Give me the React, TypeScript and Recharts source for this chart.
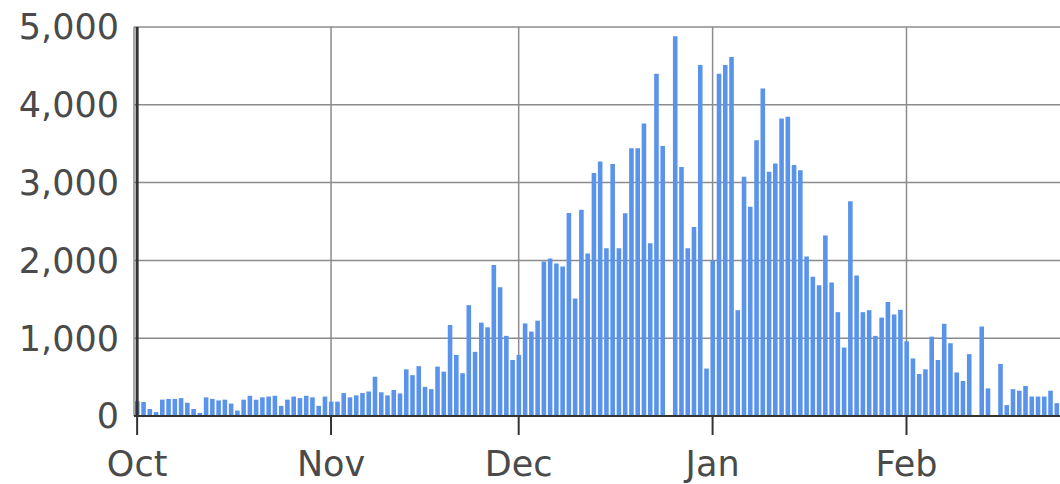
import React from "react";
import { BarChart, Bar, XAxis, YAxis, CartesianGrid, ReferenceLine } from "recharts";

const MONTHS = ["Oct", "Nov", "Dec", "Jan", "Feb"];

const octValues = [190, 180, 90, 50, 210, 220, 220, 230, 170, 90, 40, 240, 220, 200, 210, 160, 70, 210, 260, 210, 240, 250, 260, 130, 210, 250, 230, 260, 240, 130, 250];
const novValues = [185, 185, 295, 240, 265, 295, 315, 505, 305, 265, 335, 290, 600, 525, 640, 375, 345, 635, 570, 1170, 785, 550, 1425, 825, 1200, 1140, 1940, 1655, 1030, 720];
const decValues = [785, 1190, 1085, 1225, 1985, 2025, 1960, 1920, 2610, 1510, 2650, 2090, 3125, 3270, 2155, 3240, 2155, 2605, 3440, 3440, 3760, 2220, 4400, 3470, 0, 4880, 3200, 2155, 2430, 4510, 610];
const janValues = [2000, 4400, 4510, 4615, 1360, 3075, 2690, 3545, 4210, 3140, 3245, 3825, 3845, 3225, 3160, 2050, 1790, 1680, 2320, 1715, 1335, 880, 2760, 1805, 1335, 1360, 1030, 1265, 1465, 1305, 1365];
const febValues = [960, 740, 540, 600, 1020, 720, 1185, 935, 560, 450, 795, 0, 1150, 355, 0, 670, 140, 345, 325, 385, 250, 250, 250, 325, 165, 335];

const Y_TICKS = [0, 1000, 2000, 3000, 4000, 5000];

const monthly = [octValues, novValues, decValues, janValues, febValues];
const data = monthly.flatMap((vals, m) =>
  vals.map((v, i) => ({ day: `${MONTHS[m]} ${i + 1}`, count: v }))
);
const monthTicks = MONTHS.map((m) => `${m} 1`);

const DAY_PX = 6.252;
const PLOT_LEFT = 134;
const FONT = "'DejaVu Sans', sans-serif";

export default function App() {
  const width = Math.ceil(PLOT_LEFT + data.length * DAY_PX);
  return (
    <div
      style={{
        position: "absolute",
        left: 0,
        top: 0,
        width: 1060,
        height: 484,
        overflow: "hidden",
        background: "#fff",
        fontFamily: FONT,
      }}
    >
      <BarChart
        width={width}
        height={484}
        data={data}
        margin={{ top: 27, right: 0, bottom: 0, left: 0 }}
      >
        <CartesianGrid stroke="#8c8c8c" strokeWidth={1.5} />
        <XAxis
          dataKey="day"
          ticks={monthTicks}
          interval={0}
          tickFormatter={(v: string) => v.split(" ")[0]}
          height={68}
          tickSize={19}
          tickMargin={16}
          tick={{ fontSize: 35, fill: "#4a4a4a", fontFamily: FONT }}
          axisLine={{ stroke: "#333", strokeWidth: 2 }}
          tickLine={{ stroke: "#333", strokeWidth: 2 }}
        />
        <YAxis
          width={PLOT_LEFT}
          domain={[0, 5000]}
          ticks={Y_TICKS}
          interval={0}
          tickFormatter={(v: number) => v.toLocaleString("en-US")}
          tickLine={false}
          axisLine={false}
          tickSize={0}
          tickMargin={15}
          tick={{ fontSize: 35, fill: "#4a4a4a", fontFamily: FONT }}
        />
        <ReferenceLine x="Oct 1" stroke="#333" strokeWidth={3} />
        <Bar dataKey="count" fill="#5a94ea" barSize={4.6} isAnimationActive={false} />
      </BarChart>
    </div>
  );
}
